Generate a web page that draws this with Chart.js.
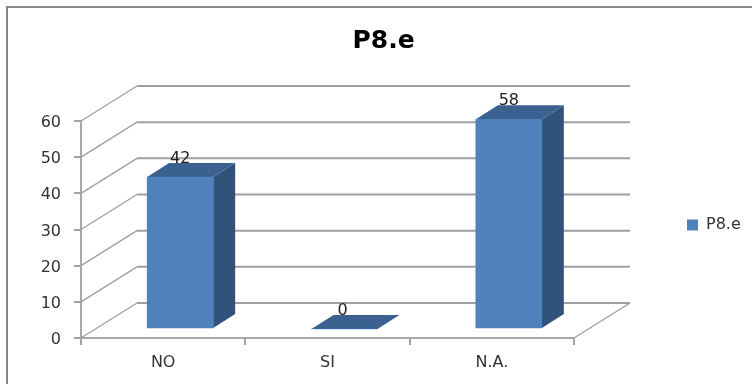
<!DOCTYPE html>
<html>
<head>
<meta charset="utf-8">
<style>
html,body{margin:0;padding:0;background:#fff;overflow:hidden}
#wrap{width:752px;height:384px;filter:blur(0.6px)}
canvas{display:block}
</style>
<script src="https://cdn.jsdelivr.net/npm/chart.js@4"></script>
</head>
<body>
<div id="wrap"><canvas id="c" width="752" height="384"></canvas></div>
<script>
const categories = ['NO', 'SI', 'N.A.'];
const seriesName = 'P8.e';
const seriesValues = [42, 0, 58];
const chartTitle = 'P8.e';

const FONT = '"DejaVu Sans", sans-serif';
const WALL = {dx: 56, dy: -35};
const BAR_DEPTH = {dx: 22, dy: -14};
const BAR_SHIFT = {dx: 17, dy: -9};
const GRID = '#a0a0a0';

function poly(ctx, pts, fill) {
  ctx.beginPath();
  pts.forEach((p, i) => i ? ctx.lineTo(p[0], p[1]) : ctx.moveTo(p[0], p[1]));
  ctx.closePath();
  ctx.fillStyle = fill;
  ctx.fill();
}

const scene3d = {
  id: 'scene3d',
  beforeLayout(chart) {
    const l = chart.legend;
    if (l && !l._wrapped) {
      const f = l.fit;
      l.fit = function () { f.call(this); this.width = 178; };
      l._wrapped = true;
    }
  },
  afterLayout(chart) {
    const l = chart.legend;
    l.left = 677; l.right = 752; l.top = 207; l.bottom = 240;
    chart.titleBlock.left += 15;
  },
  beforeDatasetsDraw(chart) {
    const {ctx, scales: {x, y}} = chart;
    ctx.save();
    // frame
    ctx.strokeStyle = '#868686';
    ctx.lineWidth = 2;
    ctx.beginPath();
    ctx.moveTo(7, 384); ctx.lineTo(7, 7); ctx.lineTo(752, 7);
    ctx.stroke();
    // walls
    ctx.strokeStyle = GRID;
    y.ticks.forEach(t => {
      const py = y.getPixelForValue(t.value);
      ctx.lineWidth = 1.4;
      ctx.beginPath();
      ctx.moveTo(x.left, py);
      ctx.lineTo(x.left + WALL.dx, py + WALL.dy);
      ctx.stroke();
      ctx.lineWidth = 2;
      ctx.beginPath();
      ctx.moveTo(x.left + WALL.dx, py + WALL.dy);
      ctx.lineTo(x.right + WALL.dx, py + WALL.dy);
      ctx.stroke();
    });
    const py0 = y.getPixelForValue(0);
    ctx.lineWidth = 1.4;
    ctx.beginPath();
    ctx.moveTo(x.right, py0);
    ctx.lineTo(x.right + WALL.dx, py0 + WALL.dy);
    ctx.stroke();
    // side and top faces
    chart.getDatasetMeta(0).data.forEach(bar => {
      const L = bar.x - bar.width / 2 + BAR_SHIFT.dx;
      const R = bar.x + bar.width / 2 + BAR_SHIFT.dx;
      const T = bar.y + BAR_SHIFT.dy;
      const B = bar.base + BAR_SHIFT.dy;
      const d = BAR_DEPTH;
      poly(ctx, [[R, T], [R + d.dx, T + d.dy], [R + d.dx, B + d.dy], [R, B]], '#31527a');
      poly(ctx, [[L, T], [L + d.dx, T + d.dy], [R + d.dx, T + d.dy], [R, T]], '#3a6190');
    });
    ctx.restore();
    ctx.save();
    ctx.translate(BAR_SHIFT.dx, BAR_SHIFT.dy);
  },
  afterDatasetsDraw(chart) {
    const {ctx} = chart;
    ctx.restore();
    ctx.save();
    ctx.fillStyle = '#222';
    ctx.font = '16px ' + FONT;
    ctx.textAlign = 'center';
    ctx.textBaseline = 'middle';
    chart.getDatasetMeta(0).data.forEach((bar, i) => {
      ctx.fillText(String(seriesValues[i]), bar.x + BAR_SHIFT.dx - (seriesValues[i] === 0 ? 2 : 0), bar.y + BAR_SHIFT.dy - 18);
    });
    ctx.restore();
  }
};

new Chart(document.getElementById('c'), {
  type: 'bar',
  plugins: [scene3d],
  data: {
    labels: categories,
    datasets: [{
      label: seriesName,
      data: seriesValues,
      backgroundColor: '#4f81bd',
      borderWidth: 0,
      barThickness: 66,
      clip: false
    }]
  },
  options: {
    responsive: false,
    animation: false,
    layout: {padding: {left: 0, right: 0, top: 0, bottom: 0}},
    plugins: {
      title: {
        display: true,
        text: chartTitle,
        color: '#000',
        font: {family: FONT, size: 25, weight: 'bold', lineHeight: 1.2},
        padding: {top: 26, bottom: 65}
      },
      legend: {
        display: true,
        position: 'right',
        align: 'start',
        labels: {
          boxWidth: 11, boxHeight: 11, padding: 10,
          color: '#333',
          font: {family: FONT, size: 16}
        }
      },
      tooltip: {enabled: false}
    },
    scales: {
      x: {
        afterFit(s) { s.height = 46; },
        grid: {drawOnChartArea: false, drawTicks: true, tickLength: 7, color: '#a3a3a3', lineWidth: 2},
        border: {display: true, color: '#a8a8a8', width: 2},
        ticks: {color: '#333', font: {family: FONT, size: 16}, padding: 8, maxRotation: 0}
      },
      y: {
        min: 0, max: 60,
        afterFit(s) { s.width = 81; },
        grid: {drawOnChartArea: false, drawTicks: true, tickLength: 7, color: '#a3a3a3', lineWidth: 2},
        border: {display: true, color: '#a8a8a8', width: 2},
        ticks: {stepSize: 10, color: '#333', font: {family: FONT, size: 16}, padding: 13, labelOffset: 2}
      }
    }
  }
});
</script>
</body>
</html>
